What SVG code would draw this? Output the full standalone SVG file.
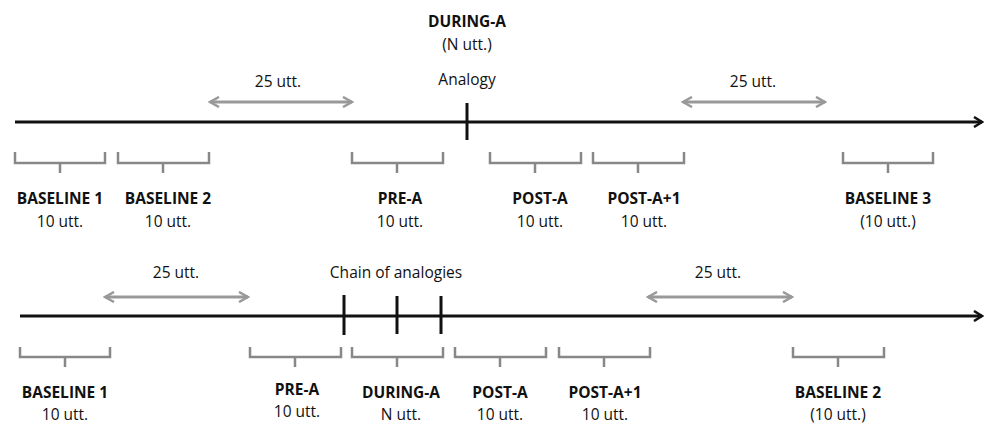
<svg xmlns="http://www.w3.org/2000/svg" width="990" height="425" viewBox="0 0 990 425">
<style>
.bg{fill:#fff}
.axis{stroke:#111;stroke-width:3;fill:none}
.tick{stroke:#111;stroke-width:3}
.span{stroke:#999;stroke-width:3;fill:none}
.br{stroke:#888;stroke-width:2.5;fill:none;stroke-linejoin:miter}
text{font-family:"Open Sans","Liberation Sans",sans-serif;font-size:15.5px;fill:#111;text-anchor:middle}
.b{font-weight:bold}
</style>
<defs>
<marker id="ah" viewBox="0 0 12 12" refX="10" refY="6" markerWidth="12" markerHeight="12" markerUnits="userSpaceOnUse" orient="auto">
<path d="M2,1 L10,6 L2,11" fill="none" stroke="#111" stroke-width="2.5"/>
</marker>
<marker id="ga" viewBox="0 0 12 12" refX="10" refY="6" markerWidth="12" markerHeight="12" markerUnits="userSpaceOnUse" orient="auto-start-reverse">
<path d="M1,1 L10,6 L1,11" fill="none" stroke="#999" stroke-width="2.5"/>
</marker>
</defs>
<rect class="bg" width="990" height="425"/>
<g id="connectors">
<line class="axis" x1="15" y1="122" x2="982" y2="122" marker-end="url(#ah)"/>
<line class="tick" x1="467" y1="103" x2="467" y2="140"/>
<line class="span" x1="210" y1="102" x2="352" y2="102" marker-start="url(#ga)" marker-end="url(#ga)"/>
<line class="span" x1="683" y1="102" x2="825" y2="102" marker-start="url(#ga)" marker-end="url(#ga)"/>
<line class="axis" x1="20" y1="316" x2="982" y2="316" marker-end="url(#ah)"/>
<line class="tick" x1="344" y1="295" x2="344" y2="335"/>
<line class="tick" x1="397" y1="296" x2="397" y2="334"/>
<line class="tick" x1="441" y1="296" x2="441" y2="334"/>
<line class="span" x1="105" y1="297" x2="248" y2="297" marker-start="url(#ga)" marker-end="url(#ga)"/>
<line class="span" x1="648" y1="297" x2="792" y2="297" marker-start="url(#ga)" marker-end="url(#ga)"/>
</g>
<g id="top-labels">
<text class="b" x="467" y="27">DURING-A</text>
<text x="467" y="50">(N utt.)</text>
<text x="467" y="85">Analogy</text>
<text x="278" y="87">25 utt.</text>
<text x="753" y="87">25 utt.</text>
</g>
<g id="t-baseline1"><path class="br" d="M15,152 V163 H105 V152 M60,163 V173"/><text class="b" x="60" y="204">BASELINE 1</text><text x="60" y="227">10 utt.</text></g>
<g id="t-baseline2"><path class="br" d="M118,152 V163 H209 V152 M163,163 V173"/><text class="b" x="168" y="204">BASELINE 2</text><text x="168" y="227">10 utt.</text></g>
<g id="t-prea"><path class="br" d="M352,152 V163 H443 V152 M397,163 V173"/><text class="b" x="400" y="204">PRE-A</text><text x="400" y="227">10 utt.</text></g>
<g id="t-posta"><path class="br" d="M490,152 V163 H581 V152 M535,163 V173"/><text class="b" x="540" y="204">POST-A</text><text x="540" y="227">10 utt.</text></g>
<g id="t-posta1"><path class="br" d="M593,152 V163 H684 V152 M638,163 V173"/><text class="b" x="644" y="204">POST-A+1</text><text x="644" y="227">10 utt.</text></g>
<g id="t-baseline3"><path class="br" d="M843,152 V163 H933 V152 M888,163 V173"/><text class="b" x="888" y="204">BASELINE 3</text><text x="888" y="227">(10 utt.)</text></g>
<g id="bottom-labels">
<text x="396" y="278">Chain of analogies</text>
<text x="176" y="278">25 utt.</text>
<text x="718" y="278">25 utt.</text>
</g>
<g id="b-baseline1"><path class="br" d="M20,347 V357 H110 V347 M65,357 V367"/><text class="b" x="65" y="398">BASELINE 1</text><text x="65" y="420">10 utt.</text></g>
<g id="b-prea"><path class="br" d="M250,347 V357 H341 V347 M295,357 V367"/><text class="b" x="297" y="395">PRE-A</text><text x="297" y="417">10 utt.</text></g>
<g id="b-duringa"><path class="br" d="M352,347 V357 H443 V347 M397,357 V367"/><text class="b" x="401" y="398">DURING-A</text><text x="401" y="420">N utt.</text></g>
<g id="b-posta"><path class="br" d="M455,347 V357 H546 V347 M500,357 V367"/><text class="b" x="500" y="398">POST-A</text><text x="500" y="420">10 utt.</text></g>
<g id="b-posta1"><path class="br" d="M559,347 V357 H650 V347 M604,357 V367"/><text class="b" x="605" y="398">POST-A+1</text><text x="605" y="420">10 utt.</text></g>
<g id="b-baseline2"><path class="br" d="M793,347 V357 H884 V347 M838,357 V367"/><text class="b" x="838" y="398">BASELINE 2</text><text x="838" y="420">(10 utt.)</text></g>
</svg>
